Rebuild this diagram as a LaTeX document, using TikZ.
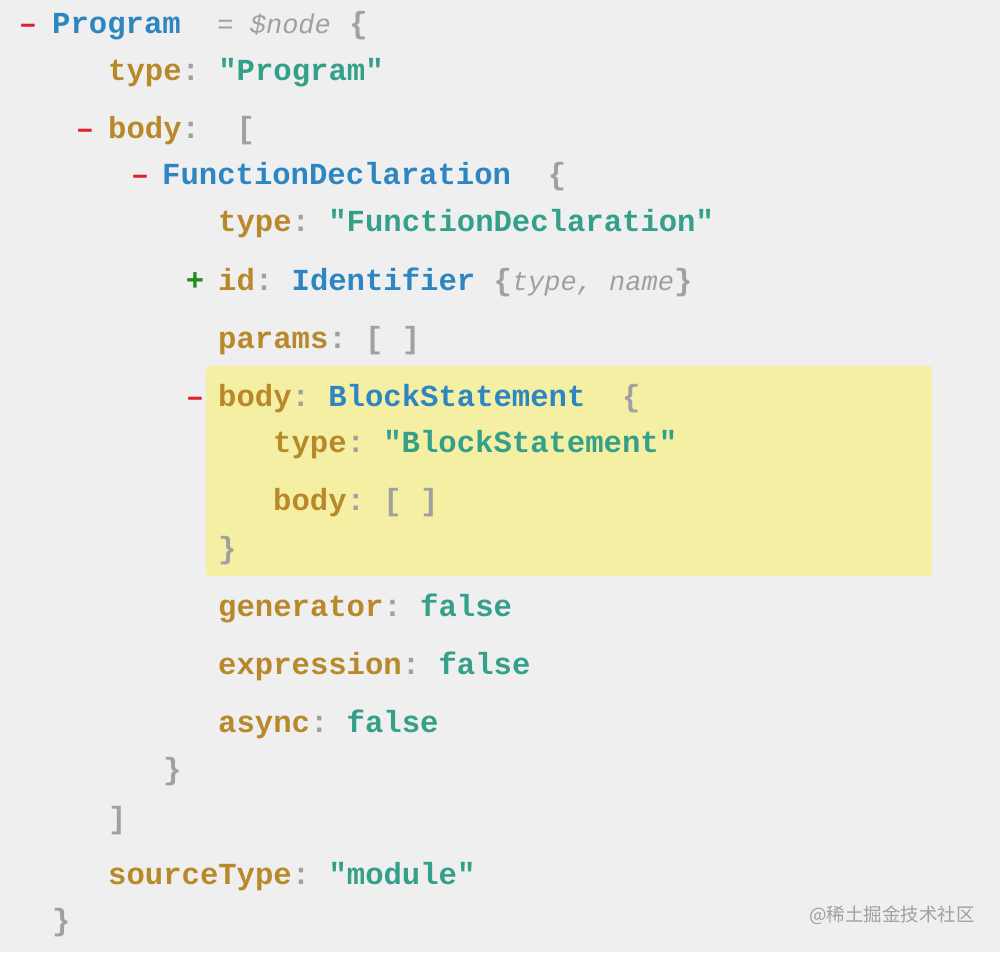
\documentclass[tikz,border=0pt]{standalone}
\usepackage{fontspec}
\setmonofont{Liberation Mono}
\newfontfamily\cjkfont{Noto Sans CJK SC}
\usetikzlibrary{calc}

\definecolor{bgc}{HTML}{EFEFEF}
\definecolor{hilitec}{HTML}{F5EFA4}
\definecolor{minusc}{HTML}{E0202F}
\definecolor{plusc}{HTML}{1E8E1E}
\definecolor{typec}{HTML}{2E86C1}
\definecolor{keyc}{HTML}{B8892A}
\definecolor{strc}{HTML}{35A08A}
\definecolor{puncc}{HTML}{A0A0A0}

\newcommand{\akey}[1]{\textcolor{keyc}{#1}\textcolor{puncc}{:}}
\newcommand{\atype}[1]{\textcolor{typec}{#1}}
\newcommand{\astr}[1]{\textcolor{strc}{#1}}
\newcommand{\apunc}[1]{\textcolor{puncc}{#1}}
\newcommand{\anote}[1]{{\fontsize{27}{30}\selectfont\mdseries\itshape\textcolor{puncc}{#1}}}

\begin{document}
\begin{tikzpicture}[x=1pt, y=-1pt,
    every node/.style={inner sep=0pt, font=\ttfamily\bfseries\fontsize{30.6}{36}\selectfont},
    row/.style={anchor=mid west},
    toggle/.style={anchor=mid},
    minus/.style={text=minusc},
    plus/.style={text=plusc}]

% Background
\fill[bgc] (0,0) rectangle (1000,952);
\useasboundingbox (0,0) rectangle (1000,952);

% Selected node
\fill[hilitec, rounded corners=3pt] (206,366) rectangle (932,576);

% Program
\node[toggle, minus] (t1) at (28,31) {–};
\node[row] (prog) at (52,31) {\atype{Program}~~\anote{=~\$node}~\apunc{\{}};
\node[row] (progtype) at (108,78) {\akey{type} \astr{"Program"}};
\node[toggle, minus] (t2) at (85,136) {–};
\node[row] (progbody) at (108,136) {\akey{body}~~\apunc{[}};

% FunctionDeclaration
\node[toggle, minus] (t3) at (140,182) {–};
\node[row] (func) at (162,182) {\atype{FunctionDeclaration}~~\apunc{\{}};
\node[row] (functype) at (218,229) {\akey{type} \astr{"FunctionDeclaration"}};
\node[toggle, plus] (t4) at (195,288) {+};
\node[row] (funcid) at (218,288) {\akey{id} \atype{Identifier} \apunc{\{}\anote{type,~name}\apunc{\}}};
\node[row] (funcparams) at (218,346) {\akey{params} \apunc{[ ]}};

% BlockStatement
\node[toggle, minus] (t5) at (195,404) {–};
\node[row] (block) at (218,404) {\akey{body} \atype{BlockStatement}~~\apunc{\{}};
\node[row] (blocktype) at (273,450) {\akey{type} \astr{"BlockStatement"}};
\node[row] (blockbody) at (273,508) {\akey{body} \apunc{[ ]}};
\node[row] (blockend) at (218,556) {\apunc{\}}};

% Flags
\node[row] (gen) at (218,614) {\akey{generator} \astr{false}};
\node[row] (expr) at (218,672) {\akey{expression} \astr{false}};
\node[row] (async) at (218,730) {\akey{async} \astr{false}};
\node[row] (funcend) at (163,777) {\apunc{\}}};
\node[row] (bodyend) at (108,826) {\apunc{]}};

% Source type
\node[row] (srctype) at (108,882) {\akey{sourceType} \astr{"module"}};
\node[row] (progend) at (52,928) {\apunc{\}}};

% Watermark
\node[anchor=mid east, font=\cjkfont\fontsize{18.5}{20}\selectfont, text=puncc] (mark) at (975,919) {@稀土掘金技术社区};

\end{tikzpicture}
\end{document}
